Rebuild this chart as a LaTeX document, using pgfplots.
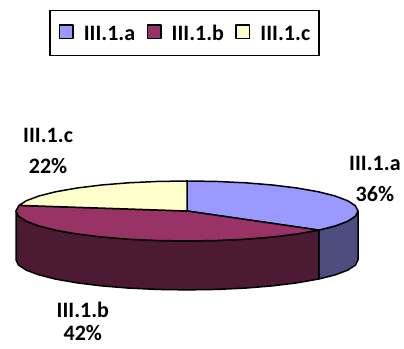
\documentclass[border=0pt]{standalone}
\usepackage{pgfplots}
\pgfplotsset{compat=1.18}
\usepackage{fontspec}
\setmainfont{Carlito}
\definecolor{sliceA}{HTML}{9999FF}
\definecolor{sliceB}{HTML}{993366}
\definecolor{sliceC}{HTML}{FFFFCC}
\definecolor{wallA}{HTML}{4D4D80}
\definecolor{wallB}{HTML}{4D1A33}
\newcommand{\lbl}{\fontsize{22}{26}\selectfont\bfseries}
\begin{document}
\begin{tikzpicture}
\useasboundingbox (0,0) rectangle (404pt,348pt);
\begin{axis}[
  at={(0,0)}, anchor=south west,
  scale only axis, width=404pt, height=348pt,
  hide axis, clip=false,
  xmin=-1.0936, xmax=1.269,
  ymin=-4.567, ymax=7.033,
  legend columns=3,
  legend cell align=left,
  legend image code/.code={
    \draw[#1,line width=1.5pt] (0,2pt) rectangle (13.5pt,15.5pt);
    \path (23.5pt,0pt);
  },
  legend style={
    at={(axis description cs:0.4567,0.905)}, anchor=center,
    draw=black, line width=1.5pt, fill=white,
    inner xsep=9pt, inner ysep=13.5pt,
    font=\lbl,
    /tikz/every even column/.append style={column sep=11.5pt},
    nodes={inner sep=0pt, anchor=base west},
  },
  every axis plot/.append style={draw=black, line width=1.5pt, line join=round},
]
% Legend keys
\addlegendimage{fill=sliceA}
\addlegendentry{III.1.a}
\addlegendimage{fill=sliceB}
\addlegendentry{III.1.b}
\addlegendimage{fill=sliceC}
\addlegendentry{III.1.c}

% Outer walls of the disc
\addplot[fill=wallA, forget plot] coordinates {
  (1,0) (.985,-.174) (.940,-.342) (.866,-.5) (.7705,-.6374)
  (.7705,-2.267) (.866,-2.13) (.940,-1.972) (.985,-1.804) (1,-1.63)
} -- cycle;
\addplot[fill=wallB, forget plot] coordinates {
  (.7705,-.6374) (.643,-.766) (.5,-.866) (.342,-.940) (.174,-.985) (0,-1)
  (-.174,-.985) (-.342,-.940) (-.5,-.866) (-.643,-.766) (-.766,-.643)
  (-.866,-.5) (-.940,-.342) (-.985,-.174) (-1,0)
  (-1,-1.63) (-.985,-1.804) (-.940,-1.972) (-.866,-2.13) (-.766,-2.273) (-.643,-2.396)
  (-.5,-2.496) (-.342,-2.57) (-.174,-2.615) (0,-2.63)
  (.174,-2.615) (.342,-2.57) (.5,-2.496) (.643,-2.396) (.7705,-2.267)
} -- cycle;

% Top faces, as angle and radius: 36% + 42% + 22% clockwise from 90 degrees
\addplot[fill=sliceA, data cs=polar, forget plot] coordinates {
  (0,0) (90,1) (80,1) (70,1) (60,1) (50,1) (40,1) (30,1) (20,1) (10,1) (0,1)
  (-10,1) (-20,1) (-30,1) (-39.6,1)
} -- cycle;
\addplot[fill=sliceB, data cs=polar, forget plot] coordinates {
  (0,0) (-39.6,1) (-50,1) (-60,1) (-70,1) (-80,1) (-90,1) (-100,1) (-110,1)
  (-120,1) (-130,1) (-140,1) (-150,1) (-160,1) (-170,1) (-180,1) (-190.8,1)
} -- cycle;
\addplot[fill=sliceC, data cs=polar, forget plot] coordinates {
  (0,0) (169.2,1) (160,1) (150,1) (140,1) (130,1) (120,1) (110,1) (100,1) (90,1)
} -- cycle;

% Slice labels
\node[font=\lbl, align=center] at (axis description cs:0.928,0.531) {III.1.a};
\node[font=\lbl, align=center] at (axis description cs:0.928,0.443) {36\%};
\node[font=\lbl, align=center] at (axis description cs:0.119,0.612) {III.1.c};
\node[font=\lbl, align=center] at (axis description cs:0.119,0.523) {22\%};
\node[font=\lbl, align=center] at (axis description cs:0.205,0.109) {III.1.b};
\node[font=\lbl, align=center, inner sep=0pt] at (axis description cs:0.205,0.042) {42\%};
\end{axis}
\end{tikzpicture}
\end{document}
